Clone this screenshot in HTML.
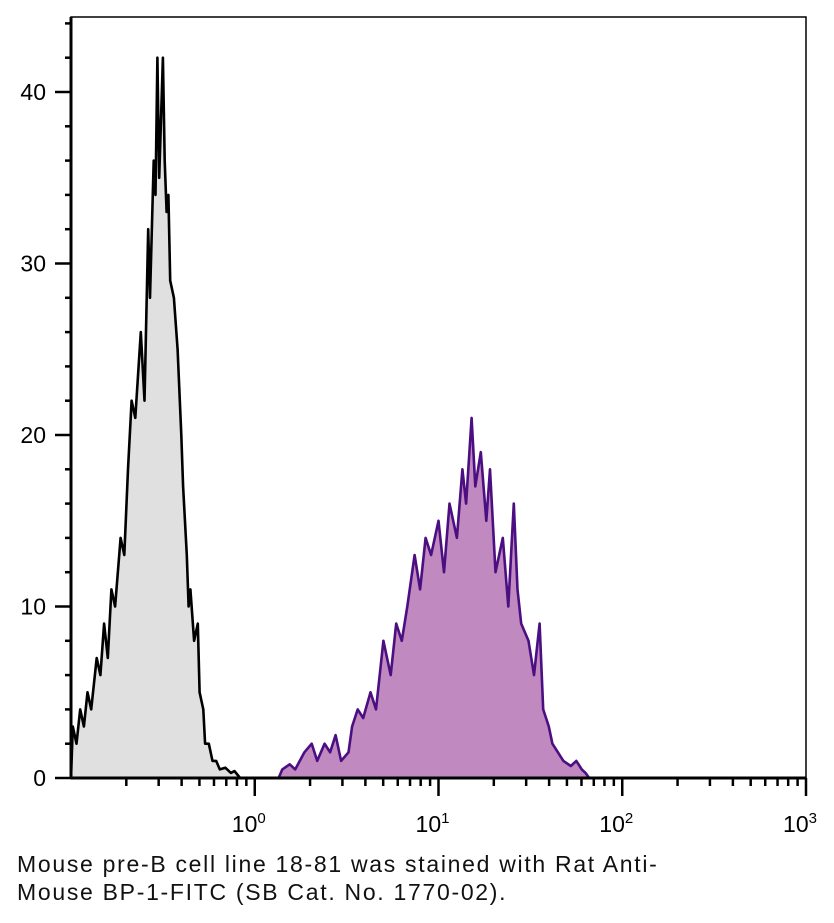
<!DOCTYPE html>
<html><head><meta charset="utf-8"><style>
body{margin:0;background:#fff;width:834px;height:923px;overflow:hidden;font-family:"Liberation Sans",sans-serif}
#cap{position:absolute;left:17px;top:850px;font-size:23px;letter-spacing:1.7px;line-height:28px;color:#111;white-space:nowrap}
</style></head><body>
<svg id="chart" width="834" height="845" style="position:absolute;left:0;top:0" font-family="Liberation Sans, sans-serif"></svg>
<div id="cap">Mouse pre-B cell line 18-81 was stained with Rat Anti-<br>Mouse BP-1-FITC (SB Cat. No. 1770-02).</div>
<script>
const yTicks=[0,10,20,30,40];
const xDecades=[0,1,2,3];
const greyLog=[-1.00,-0.99,-0.97,-0.95,-0.93,-0.91,-0.89,-0.86,-0.84,-0.82,-0.80,-0.78,-0.76,-0.73,-0.71,-0.69,-0.67,-0.65,-0.62,-0.60,-0.58,-0.57,-0.55,-0.54,-0.53,-0.52,-0.50,-0.49,-0.48,-0.47,-0.46,-0.44,-0.42,-0.40,-0.39,-0.37,-0.36,-0.35,-0.33,-0.31,-0.30,-0.28,-0.27,-0.25,-0.23,-0.21,-0.19,-0.16,-0.13,-0.11,-0.08];
const greyCount=[0,3,2,4,3,5,4,7,6,9,7,11,10,14,13,18,22,21,26,22,32,28,36,34,42,35,42,36,33,34,29,28,25,20,17,13,10,11,8,9,5,4,2,2,1,1,0.5,0.6,0.3,0.4,0];
const purpleLog=[0.13,0.15,0.19,0.22,0.27,0.31,0.34,0.38,0.41,0.44,0.47,0.51,0.53,0.56,0.59,0.63,0.66,0.68,0.70,0.74,0.77,0.80,0.83,0.87,0.90,0.93,0.96,1.00,1.03,1.06,1.10,1.13,1.15,1.18,1.20,1.23,1.26,1.28,1.31,1.35,1.38,1.41,1.43,1.45,1.49,1.52,1.55,1.57,1.60,1.62,1.65,1.68,1.72,1.75,1.78,1.80,1.82];
const purpleCount=[0,0.5,0.8,0.5,1.5,2,1,2,1.5,2.5,1,1.5,3,4,3.5,5,4,6,8,6,9,8,10,13,11,14,13,15,12,16,14,18,16,21,17,19,15,18,12,14,10,16,11,9,8,6,9,4,3,2,1.5,1,0.7,1,0.5,0.3,0];
const L=71,R=806,T=17,B=778;
const X=e=>L+(e+1)*(R-L)/4;
const Y=v=>B-v*(B-92)/40;
const svg=document.getElementById('chart');
const NS='http://www.w3.org/2000/svg';
function mk(tag,attrs,parent){const el=document.createElementNS(NS,tag);for(const k in attrs)el.setAttribute(k,attrs[k]);(parent||svg).appendChild(el);return el;}
function area(lg,ct,fill,stroke,name){
  let d='M'+X(lg[0])+','+B;
  lg.forEach((e,i)=>{d+=' L'+X(e).toFixed(1)+','+Y(ct[i]).toFixed(1);});
  d+=' L'+X(lg[lg.length-1])+','+B+' Z';
  const p=mk('path',{d:d,fill:fill,stroke:stroke,'stroke-width':2.6,'stroke-linejoin':'round'});
  
  
}
area(greyLog,greyCount,'#e0e0e0','#000','control-histogram');
area(purpleLog,purpleCount,'#c089c0','#4b0f82','stained-histogram');
const frame=mk('rect',{x:L,y:T,width:R-L,height:B-T,fill:'none',stroke:'#000','stroke-width':1.5});


mk('line',{x1:L,y1:T,x2:L,y2:B,stroke:'#000','stroke-width':3});
mk('line',{x1:L,y1:B,x2:R,y2:B,stroke:'#000','stroke-width':3});
for(let v=0;v<=44;v+=2){mk('line',{x1:L-(v%10===0?16:6),y1:Y(v),x2:L,y2:Y(v),stroke:'#000','stroke-width':2.5});}
yTicks.forEach(v=>{const t=mk('text',{x:46,y:Y(v)+8,'text-anchor':'end','font-size':23});t.textContent=v;

});
for(let d=-1;d<3;d++){for(let m=2;m<=10;m++){const e=d+Math.log10(m);const major=m===10;
mk('line',{x1:X(e),y1:B,x2:X(e),y2:B+(major?18:8),stroke:'#000','stroke-width':2.5});}}
xDecades.forEach(d=>{const t=mk('text',{x:X(d)-6,y:832,'text-anchor':'middle','font-size':23});t.textContent='10';
const s=mk('tspan',{dy:-9,'font-size':15},t);s.textContent=d;

});
</script>
</body></html>
